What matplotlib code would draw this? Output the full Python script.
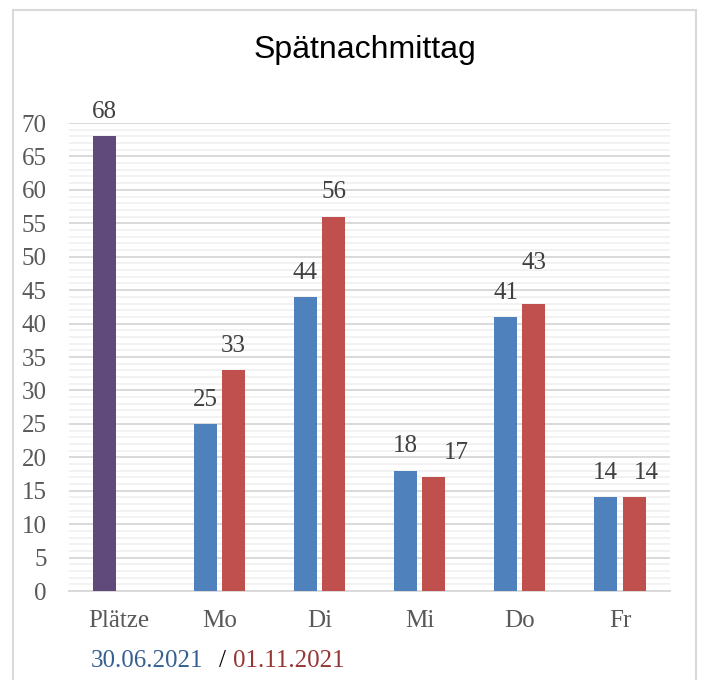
import matplotlib
matplotlib.use("Agg")
import matplotlib.pyplot as plt
import numpy as np
from matplotlib.patches import Rectangle

categories = ["Plätze", "Mo", "Di", "Mi", "Do", "Fr"]
capacity = [68, None, None, None, None, None]
series_a = [None, 25, 44, 18, 41, 14]
series_b = [None, 33, 56, 17, 43, 14]
label_a = "30.06.2021"
label_b = "01.11.2021"
title = "Spätnachmittag"
y_ticks = list(range(0, 71, 5))

# style
c_cap = "#604A7B"
c_a = "#4F81BD"
c_b = "#C0504D"
serif = ["Liberation Serif", "DejaVu Serif"]
sans = ["Liberation Sans", "DejaVu Sans"]
fs = 18
lab_col = "#404040"
tick_col = "#595959"
bw = 0.23
off = 0.142
# shifts (points) of some labels to avoid overlaps, as Excel does
shift_b = [(0, 0), (0, 0), (0, 0), (16.5, 0), (0, 11.5), (9, 0)]

fig = plt.figure(figsize=(7.04, 6.8), dpi=100)
ax = fig.add_axes([69/704, 1-591/680, (670-69)/704, (591-123)/680])

x = np.arange(len(categories))

def draw(vals, xs, color, shifts=None):
    for i, (xi, v) in enumerate(zip(xs, vals)):
        if v is None:
            continue
        ax.bar(xi, v, width=bw, color=color, zorder=3)
        dx, dy = shifts[i] if shifts else (0, 0)
        ax.annotate(str(v), (xi, v), xytext=(dx, 17.5 + dy), textcoords="offset points",
                    ha="center", va="center", fontsize=fs, family=serif,
                    color=lab_col, zorder=4)

draw(capacity, x - off, c_cap)
draw(series_a, x - off, c_a)
draw(series_b, x + off, c_b, shift_b)

ax.set_xlim(-0.5, len(categories) - 0.5)
ax.set_ylim(0, 70)
ax.set_yticks(y_ticks)
ax.set_yticks(range(0, 71), minor=True)
ax.set_xticks(x)
ax.set_xticklabels(categories)
for lbl in ax.get_xticklabels() + ax.get_yticklabels():
    lbl.set_family(serif)
    lbl.set_fontsize(fs)
    lbl.set_color(tick_col)
ax.tick_params(axis="y", which="both", length=0, pad=16)
ax.tick_params(axis="x", length=0, pad=14)
ax.yaxis.grid(True, which="minor", color="#F2F2F2", linewidth=1.4, zorder=0)
ax.yaxis.grid(True, which="major", color="#D9D9D9", linewidth=1.4, zorder=1)
ax.set_axisbelow(True)
for s in ["top", "right", "left"]:
    ax.spines[s].set_visible(False)
ax.spines["bottom"].set_color("#D9D9D9")
ax.spines["bottom"].set_linewidth(1.4)
ax.spines["bottom"].set_zorder(2)

fig.text(365/704, 1-50/680, title, ha="center", va="center", fontsize=23,
         family=sans, color="#000000")

ly = 1 - 661/680
fig.text(91/704, ly, label_a, ha="left", va="center", fontsize=fs, family=serif, color="#376092")
fig.text(222/704, ly, "/", ha="center", va="center", fontsize=fs, family=serif, color="#000000")
fig.text(233/704, ly, label_b, ha="left", va="center", fontsize=fs, family=serif, color="#953735")

fig.patches.append(Rectangle((13/704, -0.05), (696-13)/704, 1.05 - 10/680,
                             transform=fig.transFigure, fill=False,
                             edgecolor="#D9D9D9", linewidth=1.5))

fig.savefig("out.png", dpi=100)
